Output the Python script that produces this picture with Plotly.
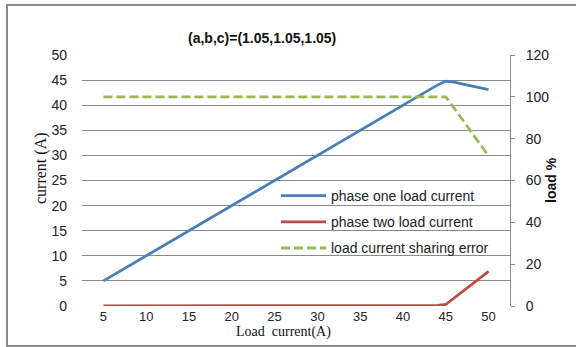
import plotly.graph_objects as go

# Load sweep (A) and measured results
load_current = [5, 10, 15, 20, 25, 30, 35, 40, 44, 45, 46, 47, 48, 49, 50]
phase_one = [5, 10, 15, 20, 25, 30, 35, 40, 44.0, 44.8, 44.6, 44.2, 43.8, 43.5, 43.1]
phase_two = [0, 0, 0, 0, 0, 0, 0, 0, 0.1, 0.3, 1.6, 3.0, 4.3, 5.6, 6.9]
sharing_error = [100, 100, 100, 100, 100, 100, 100, 100, 100, 100, 94.5, 88.9, 83.3, 77.6, 71.7]

x_ticks = [5, 10, 15, 20, 25, 30, 35, 40, 45, 50]
left_ticks = [0, 5, 10, 15, 20, 25, 30, 35, 40, 45, 50]
right_ticks = [0, 20, 40, 60, 80, 100, 120]

W, H = 576, 347
L, R, T, B = 82, 66, 55, 41
pw, ph = W - L - R, H - T - B

def px_x(p):
    return (p - L) / pw

def px_y(p):
    return (H - B - p) / ph

tick_font = dict(family="Liberation Sans", size=14, color="#222222")
serif = "Liberation Serif"

fig = go.Figure()
fig.add_trace(go.Scatter(x=load_current, y=phase_one, mode="lines",
                         name="phase one load current", legendgroup="a",
                         line=dict(color="#4A7EBB", width=2.8)))
fig.add_trace(go.Scatter(x=load_current, y=phase_two, mode="lines",
                         name="phase two load current", legendgroup="b",
                         line=dict(color="#BE4B48", width=2.8)))
fig.add_trace(go.Scatter(x=load_current, y=sharing_error, mode="lines",
                         name="load current sharing error", legendgroup="c",
                         yaxis="y2",
                         line=dict(color="#98B954", width=2.8, dash="9px,4px")))

fig.update_layout(
    width=W, height=H,
    margin=dict(l=L, r=R, t=T, b=B, pad=0),
    paper_bgcolor="white", plot_bgcolor="white",
    showlegend=True,
    legend=dict(x=px_x(276), y=px_y(180), xanchor="left", yanchor="top",
                bgcolor="rgba(0,0,0,0)", font=dict(family="Liberation Sans", size=14, color="#222222"),
                traceorder="grouped", tracegroupgap=5, itemwidth=45),
    xaxis=dict(range=[2.5, 52.5], tickvals=x_ticks, showgrid=False, zeroline=False,
               showline=False, ticks="", ticklabelstandoff=1,
               tickfont=dict(family="Liberation Sans", size=13, color="#222222")),
    yaxis=dict(range=[0, 50], tickvals=left_ticks, showgrid=True, gridcolor="#8a8a8a",
               gridwidth=1, zeroline=False, showline=False, ticks="",
               tickfont=tick_font, ticklabelstandoff=14),
    yaxis2=dict(range=[0, 120], tickvals=right_ticks, overlaying="y", side="right",
                showgrid=False, zeroline=False, showline=True, linecolor="#8a8a8a",
                linewidth=1, ticks="outside", ticklen=4, tickcolor="#8a8a8a",
                tickfont=tick_font, ticklabelstandoff=8),
)

# Outer frame (its right side lies beyond the page edge)
fig.add_shape(type="rect", xref="paper", yref="paper",
              x0=px_x(7), x1=px_x(600), y0=px_y(346), y1=px_y(5),
              line=dict(color="#8a8a8a", width=2), layer="below")

# Title and axis titles
fig.add_annotation(text="<b>(a,b,c)=(1.05,1.05,1.05)</b>", xref="paper", yref="paper",
                   x=px_x(262), y=px_y(28), showarrow=False,
                   font=dict(family="Liberation Sans", size=14, color="#111111"))
fig.add_annotation(text="current (A)", xref="paper", yref="paper",
                   x=px_x(30), y=px_y(168), showarrow=False, textangle=-90,
                   font=dict(family=serif, size=16, color="#111111"))
fig.add_annotation(text="Load  current(A)", xref="paper", yref="paper",
                   x=px_x(283), y=px_y(342), showarrow=False,
                   font=dict(family=serif, size=14, color="#111111"))
fig.add_annotation(text="<b>load %</b>", xref="paper", yref="paper",
                   x=px_x(561), y=px_y(180), showarrow=False, textangle=-90,
                   font=dict(family="Liberation Sans", size=14, color="#111111"))

fig.write_html("out.html")
